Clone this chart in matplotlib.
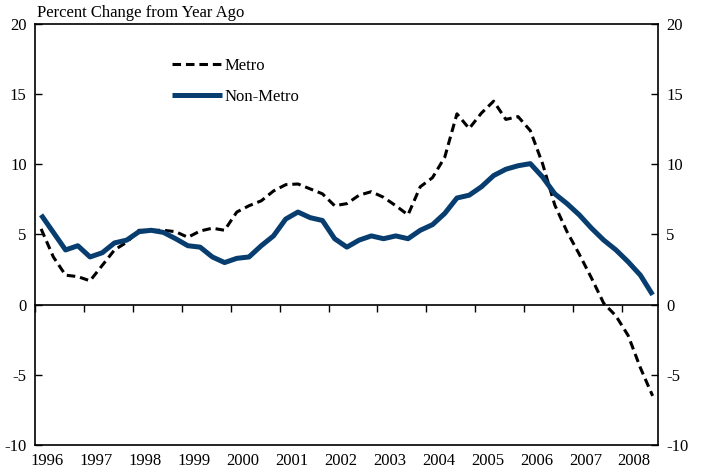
import matplotlib
matplotlib.use("Agg")
import matplotlib.pyplot as plt
import numpy as np

plt.rcParams['font.family'] = ['Liberation Serif', 'DejaVu Serif']
plt.rcParams['axes.unicode_minus'] = False

years = list(range(1996, 2009))
year_labels = [str(y) for y in years]
quarter_year = [y for y in range(1996, 2009) for q in range(1, 5)][:51]
quarter_num = [q for y in range(1996, 2009) for q in range(1, 5)][:51]

metro = [5.4, 3.4, 2.1, 2.0, 1.7, 2.8, 3.9, 4.45, 5.3, 5.3,
         5.3, 5.2, 4.8, 5.25, 5.45, 5.3, 6.6, 7.05, 7.4, 8.1,
         8.55, 8.6, 8.25, 7.9, 7.05, 7.2, 7.8, 8.05, 7.65, 7.05,
         6.4, 8.4, 9.05, 10.5, 13.6, 12.55, 13.65, 14.5, 13.2, 13.4,
         12.4, 10.05, 7.1, 5.2, 3.6, 1.9, 0.1, -0.8, -2.2, -4.5, -6.5]
nonmetro = [6.4, 5.15, 3.9, 4.2, 3.4, 3.7, 4.4, 4.6, 5.2, 5.3,
            5.15, 4.7, 4.2, 4.1, 3.4, 3.0, 3.3, 3.4, 4.2, 4.9,
            6.1, 6.6, 6.2, 6.0, 4.7, 4.1, 4.6, 4.9, 4.7, 4.9,
            4.7, 5.3, 5.7, 6.5, 7.6, 7.8, 8.4, 9.2, 9.65, 9.9,
            10.05, 9.1, 7.9, 7.2, 6.4, 5.45, 4.6, 3.9, 3.05, 2.1, 0.7]
yticks = [-10, -5, 0, 5, 10, 15, 20]

x = np.array(quarter_year) + (np.array(quarter_num) - 0.5) / 4.0

fig = plt.figure(figsize=(7.02, 4.74), dpi=100)
ax = fig.add_axes([35/702, 1-445/474, (658-35)/702, (445-24)/474])

navy = '#073d6f'
ax.plot(x, metro, color='black', lw=2.2, dashes=(2.8, 1.6), label='Metro', zorder=3)
ax.plot(x, nonmetro, color=navy, lw=3.6, label='Non-Metro', solid_capstyle='butt', zorder=4)

ax.set_xlim(1996, 2008.735)
ax.set_ylim(-10, 20)

for s in ax.spines.values():
    s.set_linewidth(1.2)

ax.set_yticks(yticks)
ax.tick_params(axis='y', direction='in', length=5, width=1.0, labelsize=12,
               left=True, right=True, labelleft=True, labelright=True, pad=6)

ax.set_xticks(np.array(years) + 0.25)
ax.set_xticklabels(year_labels)
ax.tick_params(axis='x', length=0, labelsize=12, pad=6)

sec = ax.secondary_xaxis(1/3)
sec.set_xticks(years)
sec.tick_params(axis='x', direction='out', length=5, width=1.0, labelbottom=False, labeltop=False)
for s in sec.spines.values():
    s.set_linewidth(1.2)

ax.legend(loc='upper left', bbox_to_anchor=((172-35)/623, (445-58)/421),
          frameon=False, fontsize=12, handlelength=3.0, handletextpad=0.15,
          labelspacing=0.88, borderpad=0, borderaxespad=0)

fig.text(37/702, 1-5/474, 'Percent Change from Year Ago', fontsize=12, va='top', ha='left')

fig.savefig('out.png', dpi=100)
